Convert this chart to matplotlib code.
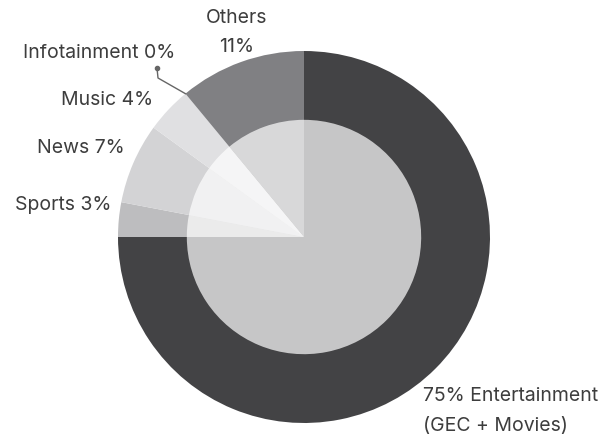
import numpy as np
import matplotlib.pyplot as plt

categories = ["Entertainment", "Sports", "News", "Music", "Infotainment", "Others"]
shares = [75, 3, 7, 4, 0, 11]
colors = ["#434345", "#bdbdbf", "#d3d3d5", "#e0e0e2", "#e6e6e8", "#808083"]

plt.rcParams['font.family'] = ['Inter', 'DejaVu Sans']
txt_color = "#3d3d3d"

W, H = 601, 441
fig = plt.figure(figsize=(W / 100, H / 100), dpi=100)

# pie centre and radius in pixels
cx, cy, R = 304, 237, 186
ax = fig.add_axes([(cx - R) / W, (H - cy - R) / H, 2 * R / W, 2 * R / H])
ax.set_xlim(-1, 1)
ax.set_ylim(-1, 1)
ax.set_aspect('equal')
ax.axis('off')

ax.pie(shares, colors=colors, startangle=90, counterclock=False, radius=1,
       wedgeprops=dict(linewidth=0))
# lighter inner disc over the same slices
ax.pie(shares, colors=["white"] * len(shares), startangle=90, counterclock=False,
       radius=0.63, wedgeprops=dict(linewidth=0, alpha=0.7))
ax.set_xlim(-1, 1)
ax.set_ylim(-1, 1)


def px(x, y):
    # pixel position -> data coords
    return (x - cx) / R, (cy - y) / R


def label(x, y, s, ha):
    dx, dy = px(x, y)
    ax.text(dx, dy, s, ha=ha, va='center', fontsize=14, color=txt_color,
            clip_on=False)


label(237, 18, "Others", 'center')
label(237, 47, "11%", 'center')
label(175, 53, "Infotainment 0%", 'right')
label(153, 100, "Music 4%", 'right')
label(125, 148, "News 7%", 'right')
label(111, 205, "Sports 3%", 'right')
label(423, 396, "75% Entertainment", 'left')
label(423, 426, "(GEC + Movies)", 'left')

# leader line to the zero-size Infotainment slice
cum = np.cumsum(shares)
idx = categories.index("Infotainment")
ang = np.deg2rad(90 - 360 * cum[idx] / 100)
ex, ey = np.cos(ang), np.sin(ang)
kx, ky = px(158, 78)
dx, dy = px(157, 68)
ax.plot([ex, kx, dx], [ey, ky, dy], color="#666666", lw=1, clip_on=False)
ax.plot([dx], [dy], 'o', color="#666666", ms=3, clip_on=False)

fig.savefig("out.png", dpi=100)
